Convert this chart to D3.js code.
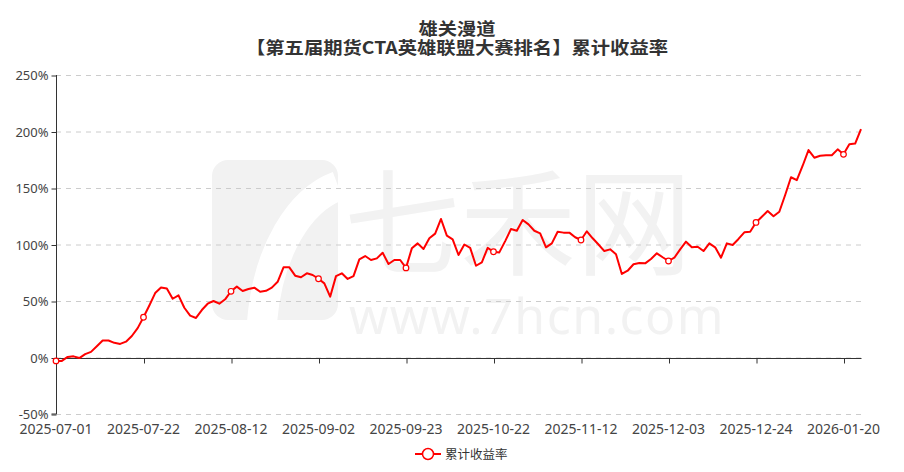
<!DOCTYPE html>
<html><head><meta charset="utf-8">
<script src="https://cdn.jsdelivr.net/npm/d3@7"></script>
<style>
html,body{margin:0;padding:0;background:#fff;}
svg{display:block;font-family:"Noto Sans CJK SC","Noto Sans",sans-serif;}
</style></head>
<body><svg id="c" width="904" height="472"></svg>
<script>
const titleLines = ["雄关漫道", "【第五届期货CTA英雄联盟大赛排名】累计收益率"];
const seriesName = "累计收益率";
const dates = [
"2025-07-01","2025-07-02","2025-07-03","2025-07-04","2025-07-07","2025-07-08","2025-07-09","2025-07-10","2025-07-11",
"2025-07-14","2025-07-15","2025-07-16","2025-07-17","2025-07-18","2025-07-21","2025-07-22","2025-07-23","2025-07-24",
"2025-07-25","2025-07-28","2025-07-29","2025-07-30","2025-07-31","2025-08-01","2025-08-04","2025-08-05","2025-08-06",
"2025-08-07","2025-08-08","2025-08-11","2025-08-12","2025-08-13","2025-08-14","2025-08-15","2025-08-18","2025-08-19",
"2025-08-20","2025-08-21","2025-08-22","2025-08-25","2025-08-26","2025-08-27","2025-08-28","2025-08-29","2025-09-01",
"2025-09-02","2025-09-03","2025-09-04","2025-09-05","2025-09-08","2025-09-09","2025-09-10","2025-09-11","2025-09-12",
"2025-09-15","2025-09-16","2025-09-17","2025-09-18","2025-09-19","2025-09-22","2025-09-23","2025-09-24","2025-09-25",
"2025-09-26","2025-09-29","2025-09-30","2025-10-09","2025-10-10","2025-10-13","2025-10-14","2025-10-15","2025-10-16",
"2025-10-17","2025-10-20","2025-10-21","2025-10-22","2025-10-23","2025-10-24","2025-10-27","2025-10-28","2025-10-29",
"2025-10-30","2025-10-31","2025-11-03","2025-11-04","2025-11-05","2025-11-06","2025-11-07","2025-11-10","2025-11-11",
"2025-11-12","2025-11-13","2025-11-14","2025-11-17","2025-11-18","2025-11-19","2025-11-20","2025-11-21","2025-11-24",
"2025-11-25","2025-11-26","2025-11-27","2025-11-28","2025-12-01","2025-12-02","2025-12-03","2025-12-04","2025-12-05",
"2025-12-08","2025-12-09","2025-12-10","2025-12-11","2025-12-12","2025-12-15","2025-12-16","2025-12-17","2025-12-18",
"2025-12-19","2025-12-22","2025-12-23","2025-12-24","2025-12-25","2025-12-26","2025-12-29","2025-12-30","2026-01-05",
"2026-01-06","2026-01-07","2026-01-08","2026-01-12","2026-01-13","2026-01-14","2026-01-15","2026-01-16","2026-01-19",
"2026-01-20","2026-01-21","2026-01-22","2026-01-23"];
const values = [
-3,-3,0.5,1,-0.5,3,5,10,15,15,13,12,14,19,26,
35.6,46,57,62,61,52,55,44,37,35,42,47.6,50,47.6,51.5,
58.6,62.7,58.8,60.6,61.8,58.2,59,61.8,67,79.8,79.8,72.4,71,74.5,73,
69.7,65.6,53.8,72,74.5,69.5,72,86.9,89.8,86.3,87.7,92.7,82.7,86.3,86.3,
79.3,96.6,101,96,105.5,109.6,122.6,107.8,104.6,90.7,100,97,81.2,84.2,97,
93.6,93,103,113.7,112.2,121.7,117.8,112.2,109.9,97.5,101,111.3,110.5,110.5,106.4,
104,111.7,105.5,100,94.2,95.7,91.3,73.9,76.8,82.5,83.6,83.3,87.2,92.2,88.7,
85.4,88.3,95.7,102.5,97.5,98,94.2,101,97.5,88.3,101,99.6,104.9,110.8,111.3,
119.5,124.6,129.6,125,129,143.8,159.5,157,169.7,183.6,176.8,178.6,179,179,184.2,
179.8,188.7,189.3,202];
const yTicks = [-50, 0, 50, 100, 150, 200, 250];
const labelEvery = 15;

const svg = d3.select("#c");
const m = {l:56, r:861, t:75, b:414};
const x = d3.scalePoint().domain(dates).range([m.l, m.r]);
const y = d3.scaleLinear().domain([-50, 250]).range([m.b, m.t]);

// watermark
const wm = svg.append("g").attr("fill","#f2f2f2");
wm.append("rect").attr("x",212).attr("y",160).attr("width",126).attr("height",160).attr("rx",16);
wm.append("path").attr("d","M338,186 C300,200 268,250 262,322")
  .attr("fill","none").attr("stroke","#fff").attr("stroke-width",30);
wm.append("text").attr("x",518).attr("y",266).attr("text-anchor","middle")
  .attr("font-size",116).attr("font-family","Noto Sans CJK SC").text("七禾网");
wm.append("text").attr("x",537).attr("y",334).attr("text-anchor","middle")
  .attr("font-size",50).attr("letter-spacing",1.5).attr("font-family","Noto Sans, sans-serif").text("www.7hcn.com");

// grid
svg.append("g").selectAll("line").data(yTicks).join("line")
  .attr("x1",m.l).attr("x2",m.r).attr("y1",d=>y(d)+0.5).attr("y2",d=>y(d)+0.5)
  .attr("stroke","#ccc").attr("stroke-dasharray","5,5");

// y axis
const yAxis = d3.axisLeft(y).tickValues(yTicks).tickSize(5).tickFormat(d=>d+"%");
const gy = svg.append("g").attr("transform",`translate(${m.l+0.5},0.5)`).call(yAxis);
gy.select(".domain").attr("stroke","#333").attr("d",`M-5,${m.b-0.5}H0V${m.t-0.5}`);
gy.selectAll(".tick line").attr("stroke","#333");
gy.selectAll(".tick text").attr("fill","#444").attr("font-size",13).attr("x",-8)
  .attr("font-family","Noto Sans, sans-serif");

// x axis at zero
const xAxis = d3.axisBottom(x).tickValues(dates.filter((d,i)=>i%labelEvery===0)).tickSize(5).tickFormat("");
const gx = svg.append("g").attr("transform",`translate(0.5,${Math.round(y(0))+0.5})`).call(xAxis);
gx.select(".domain").attr("stroke","#333").attr("d",`M${m.l},0H${m.r}`);
gx.selectAll(".tick line").attr("stroke","#333");
svg.append("g").selectAll("text").data(dates.filter((d,i)=>i%labelEvery===0)).join("text")
  .attr("x",d=>x(d)).attr("y",m.b+20).attr("text-anchor","middle")
  .attr("font-size",14).attr("fill","#444").attr("font-family","Noto Sans, sans-serif").text(d=>d);

// line
const line = d3.line().x((d,i)=>x(dates[i])).y(d=>y(d));
svg.append("path").datum(values).attr("d",line).attr("fill","none")
  .attr("stroke","#ff0000").attr("stroke-width",2).attr("stroke-linejoin","round");
svg.append("g").selectAll("circle").data(values.map((v,i)=>[i,v]).filter(p=>p[0]%labelEvery===0)).join("circle")
  .attr("cx",p=>x(dates[p[0]])).attr("cy",p=>y(p[1])).attr("r",2.8)
  .attr("fill","#fff").attr("stroke","#ff0000").attr("stroke-width",1.2);

// title
const tt = svg.append("g").attr("font-weight","bold").attr("fill","#333").attr("font-size",17.5).attr("text-anchor","middle");
tt.append("text").attr("x",457).attr("y",35).attr("textLength",77).attr("lengthAdjust","spacingAndGlyphs").text(titleLines[0]);
tt.append("text").attr("x",457).attr("y",54).attr("textLength",422).attr("lengthAdjust","spacingAndGlyphs").text(titleLines[1]);

// legend
const lg = svg.append("g").attr("transform","translate(415,454)");
lg.append("line").attr("x1",0).attr("x2",26).attr("stroke","#ff0000").attr("stroke-width",2);
lg.append("circle").attr("cx",13).attr("r",5.5).attr("fill","#fff").attr("stroke","#ff0000").attr("stroke-width",1.5);
lg.append("text").attr("x",30).attr("y",5).attr("font-size",12.5).attr("fill","#333").text(seriesName);
</script></body></html>
